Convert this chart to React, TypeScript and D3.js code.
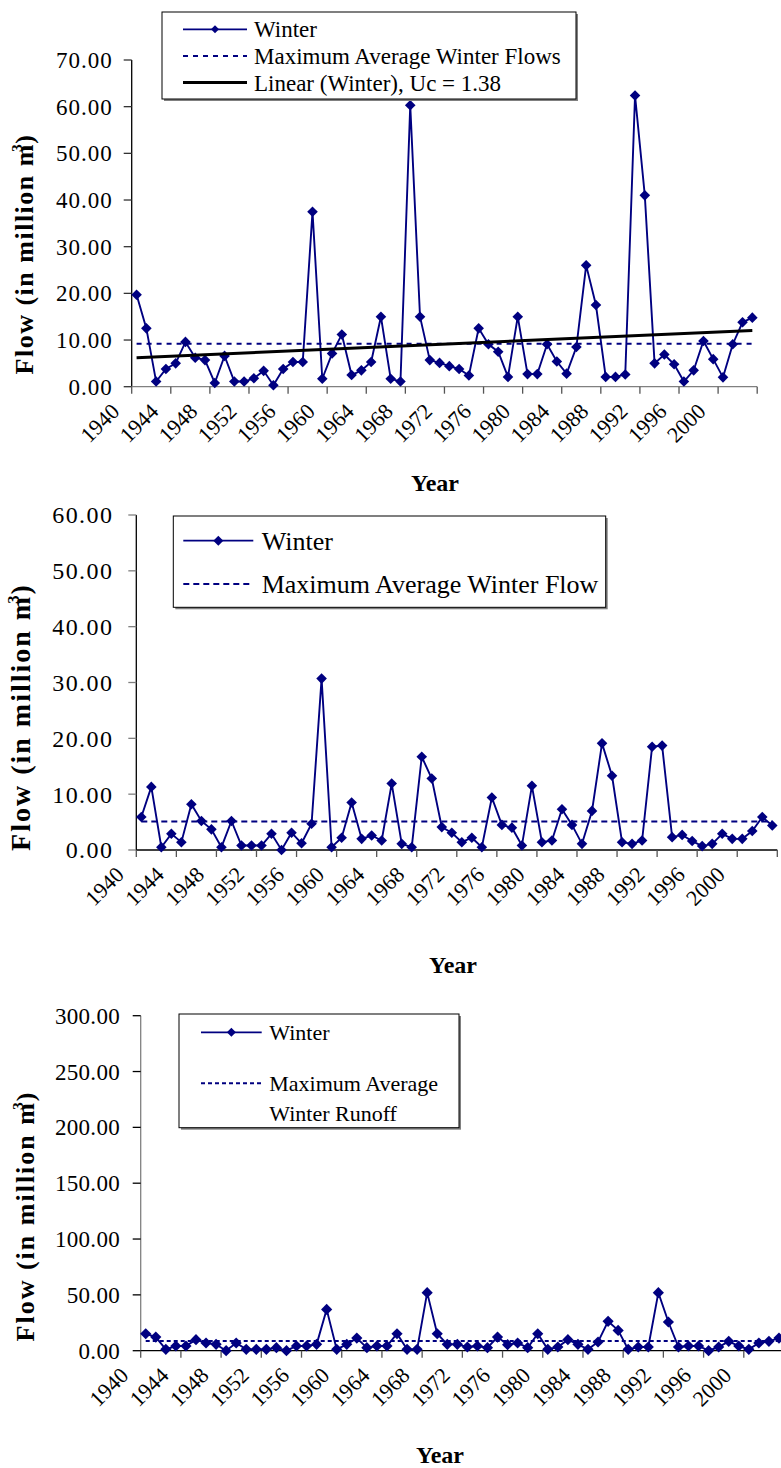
import React from 'react';
import * as d3 from 'd3';

// ---------- DATA ----------
const FIRST_YEAR = 1940;
const LAST_YEAR = 2003;
const years: number[] = d3.range(FIRST_YEAR, LAST_YEAR + 1);
const tickYears = [1940, 1944, 1948, 1952, 1956, 1960, 1964, 1968, 1972, 1976, 1980, 1984, 1988, 1992, 1996, 2000];

const yTicks1 = [0, 10, 20, 30, 40, 50, 60, 70];
const yTicks2 = [0, 10, 20, 30, 40, 50, 60];
const yTicks3 = [0, 50, 100, 150, 200, 250, 300];

const winter1 = [19.7, 12.5, 1.1, 3.8, 5.0, 9.6, 6.2, 5.7, 0.8, 6.6,
  1.1, 1.1, 1.8, 3.4, 0.3, 3.8, 5.3, 5.3, 37.5, 1.7,
  7.1, 11.2, 2.5, 3.5, 5.3, 15.0, 1.7, 1.1, 60.3, 15.0,
  5.7, 5.1, 4.4, 3.8, 2.4, 12.5, 9.1, 7.5, 2.1, 15.0,
  2.7, 2.7, 9.1, 5.4, 2.8, 8.5, 26.0, 17.5, 2.1, 2.1,
  2.6, 62.4, 41.0, 5.0, 6.9, 4.8, 1.1, 3.5, 9.8, 5.9,
  2.0, 9.1, 13.8, 14.8];
const winter2 = [5.9, 11.3, 0.5, 2.9, 1.4, 8.2, 5.2, 3.7, 0.5, 5.2,
  0.8, 0.8, 0.8, 2.9, 0.0, 3.1, 1.2, 4.7, 30.7, 0.5,
  2.2, 8.5, 2.0, 2.6, 1.7, 11.9, 1.1, 0.5, 16.7, 12.8,
  4.1, 3.1, 1.4, 2.2, 0.5, 9.4, 4.5, 4.0, 0.8, 11.5,
  1.4, 1.7, 7.3, 4.5, 1.1, 7.0, 19.1, 13.3, 1.4, 1.1,
  1.7, 18.5, 18.7, 2.3, 2.7, 1.6, 0.7, 1.1, 2.9, 2.0,
  2.0, 3.4, 5.9, 4.4];
const winter3 = [15.2, 12.2, 1.2, 4.2, 4.2, 9.9, 6.9, 5.7, 0.0, 6.9,
  1.2, 1.2, 1.2, 2.7, 0.0, 4.2, 4.2, 5.7, 37.0, 1.2,
  5.7, 11.3, 2.7, 4.2, 4.2, 15.2, 1.2, 1.2, 52.0, 15.2,
  5.7, 5.7, 3.3, 4.2, 2.7, 12.2, 5.4, 6.9, 2.7, 15.2,
  1.2, 3.3, 9.9, 5.7, 1.2, 7.8, 26.3, 18.2, 1.2, 3.3,
  3.3, 52.0, 25.7, 3.3, 4.2, 4.2, 0.0, 3.3, 8.4, 4.2,
  1.2, 6.9, 8.4, 11.3];

const maxAvg1 = 9.2;
const maxAvg2 = 5.1;
const maxAvg3 = 8.7;

const legendText1 = ['Winter', 'Maximum Average Winter Flows', 'Linear (Winter), Uc = 1.38'];
const legendText2 = ['Winter', 'Maximum Average Winter Flow'];
const legendText3 = ['Winter', 'Maximum Average', 'Winter Runoff'];

// ---------- STYLE ----------
const NAVY = '#000080';
const FONT = "'Liberation Serif', 'Times New Roman', serif";

type Row = { y: number; kind: 'series' | 'ref' | 'trend'; lines: string[]; gap?: number };
type Cfg = {
  values: number[]; ref: number; yTicks: number[]; yMax: number; trend: boolean;
  x0: number; x1: number; yTop: number; yBot: number;
  tickFont: number; tickLs: number; tickGap: number;
  yAxisColor: string; yTickColor: string; xAxisColor: string; xTickColor: string;
  dash: string; dr: number;
  legend: { x: number; y: number; w: number; h: number; font: number; s0: number; s1: number; tx: number; dr: number; rows: Row[] };
  yTitle: { x: number; cy: number; font: number; ls: number };
  xTitle: { x: number; y: number };
};

const diamond = (r: number) => `M0,${-r}L${r},0L0,${r}L${-r},0Z`;

function Chart({ c }: { c: Cfg }) {
  const band = d3.scaleBand<number>().domain(years).range([c.x0, c.x1]).padding(0);
  const xp = (yr: number) => (band(yr) as number) + band.bandwidth() / 2;
  const y = d3.scaleLinear().domain([0, c.yMax]).range([c.yBot, c.yTop]);
  const pts: [number, number][] = years.map((yr, i) => [xp(yr), y(c.values[i])]);
  const line = d3.line();
  const tickXs = tickYears.map((t) => band(t) as number).concat([c.x1]);

  let trendPath: string | null = null;
  if (c.trend) {
    const n = c.values.length;
    const mx = d3.mean(d3.range(n)) as number;
    const my = d3.mean(c.values) as number;
    let sxy = 0, sxx = 0;
    c.values.forEach((v, i) => { sxy += (i - mx) * (v - my); sxx += (i - mx) * (i - mx); });
    const b = sxy / sxx;
    const a = my - b * mx;
    trendPath = line([[xp(years[0]), y(a)], [xp(years[n - 1]), y(a + b * (n - 1))]]);
  }
  const L = c.legend;
  return (
    <g>
      {/* y axis */}
      <line x1={c.x0} x2={c.x0} y1={c.yTop} y2={c.yBot} stroke={c.yAxisColor} strokeWidth={1.3} />
      {c.yTicks.map((t) => (
        <g key={t}>
          <line x1={c.x0 - 8} x2={c.x0} y1={y(t)} y2={y(t)} stroke={c.yTickColor} strokeWidth={1.3} />
          <text x={c.x0 - c.tickGap} y={y(t)} dy="0.35em" textAnchor="end" fontSize={c.tickFont}
            letterSpacing={c.tickLs} fontFamily={FONT} fill="#000">{t.toFixed(2)}</text>
        </g>
      ))}
      {/* x axis */}
      <line x1={c.x0} x2={c.x1} y1={c.yBot} y2={c.yBot} stroke={c.xAxisColor} strokeWidth={1.3} />
      {tickXs.map((tx, i) => (
        <line key={i} x1={tx} x2={tx} y1={c.yBot} y2={c.yBot + 7} stroke={c.xTickColor} strokeWidth={1.3} />
      ))}
      {tickYears.map((t) => (
        <text key={t} transform={`translate(${(band(t) as number) - 11},${c.yBot + 26}) rotate(-45)`}
          textAnchor="end" fontSize={22} fontFamily={FONT} fill="#000">{t}</text>
      ))}
      {/* reference dashed line */}
      <line x1={pts[0][0]} x2={pts[pts.length - 1][0]} y1={y(c.ref)} y2={y(c.ref)}
        stroke={NAVY} strokeWidth={2} strokeDasharray={c.dash} />
      {/* series */}
      <path d={line(pts) as string} fill="none" stroke={NAVY} strokeWidth={1.9} />
      {pts.map((p, i) => (
        <path key={i} d={diamond(c.dr)} transform={`translate(${p[0]},${p[1]})`} fill={NAVY} />
      ))}
      {trendPath && <path d={trendPath} stroke="#000" strokeWidth={3} fill="none" />}
      {/* titles */}
      <text x={c.xTitle.x} y={c.xTitle.y} dy="0.35em" textAnchor="middle" fontWeight="bold" fontSize={24}
        fontFamily={FONT}>Year</text>
      <text transform={`translate(${c.yTitle.x},${c.yTitle.cy}) rotate(-90)`} textAnchor="middle"
        fontWeight="bold" fontSize={c.yTitle.font} letterSpacing={c.yTitle.ls} fontFamily={FONT}>
        Flow (in million m<tspan dx={-9} dy={-11} fontSize={c.yTitle.font * 0.6}>3</tspan><tspan dx={-1} dy={11}>)</tspan>
      </text>
      {/* legend */}
      <rect x={L.x + 2} y={L.y + 2} width={L.w} height={L.h} fill="#808080" />
      <rect x={L.x} y={L.y} width={L.w} height={L.h} fill="#fff" stroke="#000" strokeWidth={1} />
      {L.rows.map((r, i) => (
        <g key={i}>
          {r.kind === 'series' && (
            <g>
              <line x1={L.s0} x2={L.s1} y1={r.y} y2={r.y} stroke={NAVY} strokeWidth={1.8} />
              <path d={diamond(L.dr)} transform={`translate(${(L.s0 + L.s1) / 2},${r.y})`} fill={NAVY} />
            </g>
          )}
          {r.kind === 'ref' && (
            <line x1={L.s0} x2={L.s1} y1={r.y} y2={r.y} stroke={NAVY} strokeWidth={2} strokeDasharray={c.dash} />
          )}
          {r.kind === 'trend' && (
            <line x1={L.s0} x2={L.s1} y1={r.y} y2={r.y} stroke="#000" strokeWidth={3} />
          )}
          {r.lines.map((s, j) => (
            <text key={j} x={L.tx} y={r.y + j * (r.gap || 0)} dy="0.35em" fontSize={L.font}
              fontFamily={FONT} fill="#000">{s}</text>
          ))}
        </g>
      ))}
    </g>
  );
}

const chart1: Cfg = {
  values: winter1, ref: maxAvg1, yTicks: yTicks1, yMax: 70, trend: true,
  x0: 131.7, x1: 757.2, yTop: 60, yBot: 386.7,
  tickFont: 23, tickLs: 1, tickGap: 19,
  yAxisColor: '#000', yTickColor: '#333', xAxisColor: '#808080', xTickColor: '#555',
  dash: '5,5', dr: 5.3,
  legend: {
    x: 162, y: 12, w: 414, h: 87, font: 23, s0: 183, s1: 247, tx: 254, dr: 4,
    rows: [
      { y: 29.3, kind: 'series', lines: [legendText1[0]] },
      { y: 56, kind: 'ref', lines: [legendText1[1]] },
      { y: 82.5, kind: 'trend', lines: [legendText1[2]] },
    ],
  },
  yTitle: { x: 33, cy: 254, font: 26, ls: 1.5 },
  xTitle: { x: 435, y: 483 },
};

const chart2: Cfg = {
  values: winter2, ref: maxAvg2, yTicks: yTicks2, yMax: 60, trend: false,
  x0: 136.3, x1: 777.3, yTop: 515, yBot: 850,
  tickFont: 24, tickLs: 1.4, tickGap: 23,
  yAxisColor: '#000', yTickColor: '#808080', xAxisColor: '#000', xTickColor: '#555',
  dash: '6,4', dr: 5.3,
  legend: {
    x: 173.3, y: 516, w: 432.4, h: 91.3, font: 26, s0: 183.3, s1: 253.3, tx: 261.7, dr: 5,
    rows: [
      { y: 540.7, kind: 'series', lines: [legendText2[0]] },
      { y: 584, kind: 'ref', lines: [legendText2[1]] },
    ],
  },
  yTitle: { x: 30, cy: 717, font: 28, ls: 2 },
  xTitle: { x: 453, y: 965 },
};

const chart3: Cfg = {
  values: winter3, ref: maxAvg3, yTicks: yTicks3, yMax: 300, trend: false,
  x0: 140.7, x1: 784, yTop: 1015.7, yBot: 1350.7,
  tickFont: 23, tickLs: 0.3, tickGap: 20.7,
  yAxisColor: '#808080', yTickColor: '#000', xAxisColor: '#000', xTickColor: '#555',
  dash: '4,3', dr: 5.6,
  legend: {
    x: 179, y: 1014, w: 280, h: 113.7, font: 22, s0: 201, s1: 261.7, tx: 269.3, dr: 4.5,
    rows: [
      { y: 1032.3, kind: 'series', lines: [legendText3[0]] },
      { y: 1083.3, kind: 'ref', lines: [legendText3[1], legendText3[2]], gap: 30 },
    ],
  },
  yTitle: { x: 34, cy: 1216, font: 26, ls: 2 },
  xTitle: { x: 440, y: 1455 },
};

export default function App() {
  return (
    <svg width={781} height={1468} style={{ position: 'absolute', left: 0, top: 0, background: '#fff' }}>
      <rect x={0} y={0} width={781} height={1468} fill="#fff" />
      <Chart c={chart1} />
      <Chart c={chart2} />
      <Chart c={chart3} />
    </svg>
  );
}
